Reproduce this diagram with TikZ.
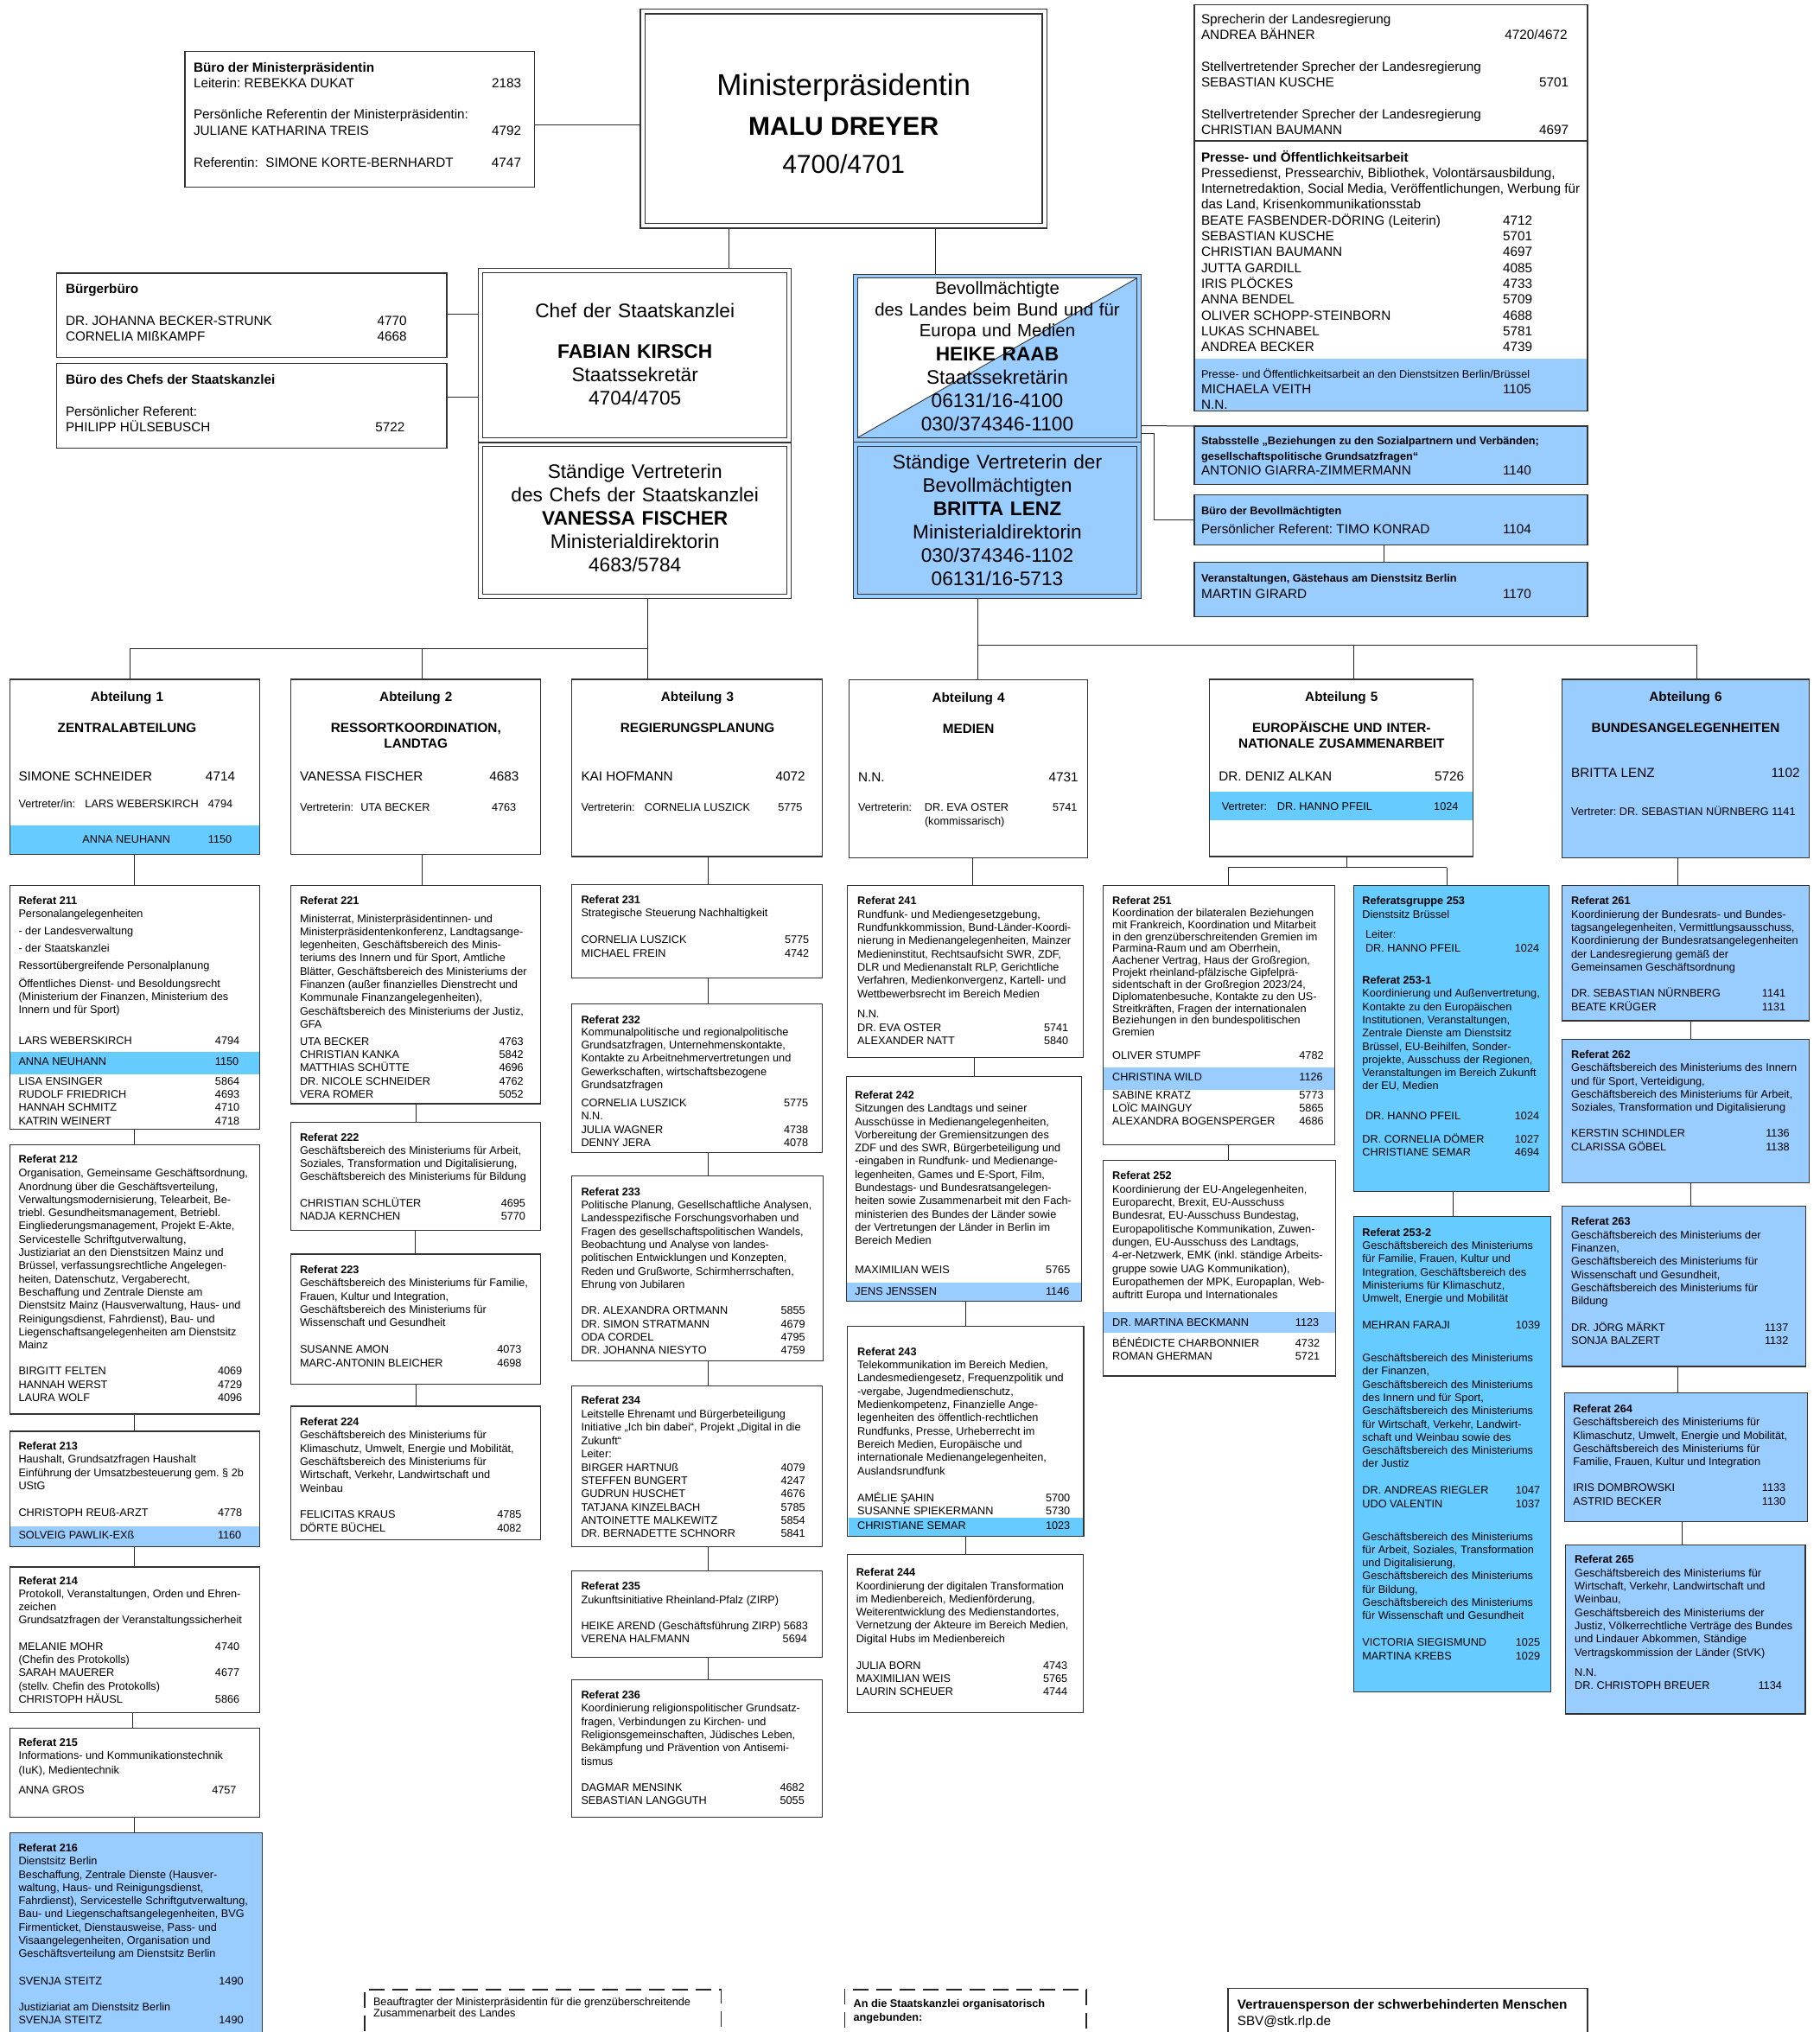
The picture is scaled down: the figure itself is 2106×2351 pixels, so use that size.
\documentclass[tikz,border=0pt]{standalone}
\usepackage{fontspec}
\setmainfont{Liberation Sans}
\usetikzlibrary{backgrounds}
\definecolor{bA}{HTML}{99CCFF}
\definecolor{bB}{HTML}{66CCFF}
\setlength{\lineskiplimit}{-50pt}
\frenchspacing
\newlength\numpos
\newcommand\pnp[1]{\setlength\numpos{#1pt}}
\newcommand\ppl[2]{\makebox[\numpos][l]{#1}#2}
\newcommand\fB{\fontsize{12.7pt}{15.3pt}\selectfont}
\newcommand\fM{\fontsize{15.3pt}{18.2pt}\selectfont}
\newcommand\fL{\fontsize{22.7pt}{27pt}\selectfont}
\newcommand\fH{\fontsize{15.3pt}{17.7pt}\selectfont\bfseries}
\newcommand\mkbox[6][]{\node[bxs,#1,minimum width={#5-#3},minimum height={#6-#4},anchor=north west] (#2) at (#3,#4) {};}
\newcommand\mkband[6]{\node[fill=#6,draw=none,inner sep=0pt,outer sep=0pt,minimum width={#4-#2-1.2},minimum height={#5-#3},anchor=north west] (#1) at ({#2+0.6},#3) {};}
\tikzset{
  bxs/.style={draw=black!80,line width=1.1pt,inner sep=0pt,outer sep=0pt},
  t1/.style={anchor=base west,inner sep=0pt,outer sep=0pt,font=\fB},
  tm/.style={anchor=base west,inner sep=0pt,outer sep=0pt,align=flush left,font=\fB},
  tc/.style={anchor=base,inner sep=0pt,outer sep=0pt,align=center},
  tc1/.style={anchor=base,inner sep=0pt,outer sep=0pt},
  con/.style={draw=black!85,line width=1pt},
  dbx/.style={draw=black!85,line width=1.6pt,dash pattern=on 18pt off 9pt,inner sep=0pt,outer sep=0pt},
}
\begin{document}
\begin{tikzpicture}[x=1pt,y=-1pt]
\useasboundingbox (0,0) rectangle (2106,2351);
\frenchspacing
% ---------------- Ministerpraesidentin
\mkbox[line width=1.6pt]{mp}{741}{10.5}{1211.5}{264}
\mkbox[line width=1.6pt]{mpin}{746.5}{16}{1206}{258.5}
\node[tc1,font=\fontsize{35pt}{40pt}\selectfont] (mpt1) at (976.2,110) {Ministerpräsidentin};
\node[tc1,font=\fontsize{30pt}{34pt}\selectfont\bfseries] (mpt2) at (976.2,156) {MALU DREYER};
\node[tc1,font=\fontsize{30pt}{34pt}\selectfont] (mpt3) at (976.2,200.5) {4700/4701};
% ---------------- Buero MP
\mkbox{bmp}{214}{59.4}{618.7}{216.3}
\node[tm,text width=392pt,font=\fM] (bmpt) at (224,83.5) {\pnp{345}\textbf{Büro der Ministerpräsidentin}\\
\ppl{Leiterin: REBEKKA DUKAT}{2183}\\[18pt]
Persönliche Referentin der Ministerpräsidentin:\\
\ppl{JULIANE KATHARINA TREIS}{4792}\\[19.2pt]
\ppl{Referentin:\ \ SIMONE KORTE-BERNHARDT}{4747}};
% ---------------- Buergerbuero / Buero Chef
\mkbox{bb}{65.4}{316}{517}{413.5}
\node[tm,text width=438pt,font=\fM] (bbt) at (76,339.4) {\pnp{360.5}\textbf{Bürgerbüro}\\[18.4pt]
\ppl{DR. JOHANNA BECKER-STRUNK}{4770}\\
\ppl{CORNELIA MIßKAMPF}{4668}};
\mkbox{bc}{65.4}{420.6}{517}{518.4}
\node[tm,text width=438pt,font=\fM] (bct) at (76,444) {\pnp{358.3}\textbf{Büro des Chefs der Staatskanzlei}\\[19.4pt]
Persönlicher Referent:\\
\ppl{PHILIPP HÜLSEBUSCH}{5722}};
% ---------------- Chef
\mkbox[line width=0.9pt]{chef}{553.8}{310.8}{915.6}{511}
\mkbox[line width=0.9pt]{chefin}{558.7}{315.5}{910.7}{506.3}
\node[tc,text width=340pt,font=\fL] (cheft) at (734.7,367) {Chef der Staatskanzlei\\[20pt]\textbf{FABIAN KIRSCH}\\Staatssekretär\\4704/4705};
\mkbox[line width=0.9pt]{stv}{553.8}{512.4}{915.6}{692.3}
\mkbox[line width=0.9pt]{stvin}{558.7}{516.9}{910.7}{687.8}
\node[tc,text width=340pt,font=\fL] (stvt) at (734.7,553) {Ständige Vertreterin\\des Chefs der Staatskanzlei\\\textbf{VANESSA FISCHER}\\Ministerialdirektorin\\4683/5784};
% ---------------- Bevollmaechtigte
\mkbox[fill=bA,line width=0.9pt]{bev}{987.6}{317.2}{1320.3}{511}
\mkbox[fill=bA,draw=none]{bevin}{992}{321.7}{1315.9}{506.5}
\fill[white] (bevin.north west) -- (bevin.north east) -- (bevin.south west) -- cycle;
\draw[black!80,line width=0.9pt] (bevin.north west) rectangle (bevin.south east);
\draw[black!80,line width=0.9pt] (bevin.south west) -- (bevin.north east);
\node[tc,text width=320pt,font=\fontsize{20.4pt}{24.5pt}\selectfont] (bevt1) at (1154,340.5) {Bevollmächtigte\\des Landes beim Bund und für\\Europa und Medien};
\node[tc,text width=320pt,font=\fontsize{22.7pt}{27.1pt}\selectfont] (bevt2) at (1154,417) {\textbf{HEIKE RAAB}\\Staatssekretärin\\06131/16-4100\\030/374346-1100};
\mkbox[fill=bA,line width=0.9pt]{bsv}{987.6}{511.5}{1320.3}{692.3}
\mkbox[fill=bA,line width=0.9pt]{bsvin}{992}{516.2}{1315.9}{687.8}
\node[tc,text width=320pt,font=\fL] (bsvt) at (1154,542) {Ständige Vertreterin der\\Bevollmächtigten\\\textbf{BRITTA LENZ}\\Ministerialdirektorin\\030/374346-1102\\06131/16-5713};
% ---------------- Sprecher / Presse (top right)
\mkbox{spr}{1382}{5.3}{1837}{475.2}
\mkband{sprb}{1382}{415}{1837}{474.6}{bA}
\coordinate (sep) at (0,163);
\draw[black!80,line width=1.1pt] (spr.west |- sep) -- (spr.east |- sep);
\node[tm,text width=446pt,font=\fontsize{15.3pt}{18pt}\selectfont] (sprt1) at (1390,27) {\pnp{391}Sprecherin der Landesregierung\\
\makebox[351.3pt][l]{ANDREA BÄHNER}4720/4672\\[19pt]
Stellvertretender Sprecher der Landesregierung\\
\ppl{SEBASTIAN KUSCHE}{5701}\\[19.3pt]
Stellvertretender Sprecher der Landesregierung\\
\ppl{CHRISTIAN BAUMANN}{4697}};
\node[tm,text width=446pt,font=\fontsize{15.3pt}{18.3pt}\selectfont] (sprt2) at (1390,187) {\pnp{349}\textbf{Presse- und Öffentlichkeitsarbeit}\\
Pressedienst, Pressearchiv, Bibliothek, Volontärsausbildung,\\
Internetredaktion, Social Media, Veröffentlichungen, Werbung für\\
das Land, Krisenkommunikationsstab\\
\ppl{BEATE FASBENDER-DÖRING (Leiterin)}{4712}\\
\ppl{SEBASTIAN KUSCHE}{5701}\\
\ppl{CHRISTIAN BAUMANN}{4697}\\
\ppl{JUTTA GARDILL}{4085}\\
\ppl{IRIS PLÖCKES}{4733}\\
\ppl{ANNA BENDEL}{5709}\\
\ppl{OLIVER SCHOPP-STEINBORN}{4688}\\
\ppl{LUKAS SCHNABEL}{5781}\\
\ppl{ANDREA BECKER}{4739}};
\node[t1] (sprt3) at (1390,437) {Presse- und Öffentlichkeitsarbeit an den Dienstsitzen Berlin/Brüssel};
\node[tm,text width=440pt,font=\fM] (sprt4) at (1390,455) {\pnp{349}\ppl{MICHAELA VEITH}{1105}\\N.N.};
% ---------------- Stabsstelle etc.
\mkbox[fill=bA]{stab}{1382}{493}{1837}{560.6}
\node[tm,text width=446pt,font=\fontsize{12.7pt}{17.7pt}\selectfont\bfseries] (stabt) at (1390,514.7) {Stabsstelle „Beziehungen zu den Sozialpartnern und Verbänden;\\gesellschaftspolitische Grundsatzfragen“};
\node[t1,font=\fM] (stabn) at (1390,549.3) {\makebox[349pt][l]{ANTONIO GIARRA-ZIMMERMANN}1140};
\mkbox[fill=bA]{bbev}{1382}{572.6}{1837}{630.6}
\node[t1,font=\fontsize{12.7pt}{15pt}\selectfont\bfseries] (bbevt) at (1390,595.5) {Büro der Bevollmächtigten};
\node[t1,font=\fM] (bbevn) at (1390,617) {\makebox[349pt][l]{Persönlicher Referent: TIMO KONRAD}1104};
\mkbox[fill=bA]{vera}{1382}{650.2}{1837}{713.4}
\node[t1,font=\fontsize{12.7pt}{15pt}\selectfont\bfseries] (verat) at (1390,673.5) {Veranstaltungen, Gästehaus am Dienstsitz Berlin};
\node[t1,font=\fM] (veran) at (1390,692.3) {\makebox[349pt][l]{MARTIN GIRARD}1170};
% ---------------- Abteilungen
\mkbox{abt1}{11.2}{786}{300.9}{988.8}
\mkband{abt1b}{11.2}{955}{300.9}{988.2}{bB}
\node[tc,text width=280pt,font=\fH] (abt1h) at (147,811.2) {Abteilung 1\\[18.8pt]ZENTRALABTEILUNG};
\node[t1,font=\fM] (abt1l) at (21.5,903) {\makebox[216.5pt][l]{SIMONE SCHNEIDER}4714};
\node[t1] (abt1v) at (21.5,934.2) {\makebox[77pt][l]{Vertreter/in:}\makebox[142.4pt][l]{LARS WEBERSKIRCH}4794};
\node[t1] (abt1a) at (95.4,975.6) {\makebox[145.5pt][l]{ANNA NEUHANN}1150};
\mkbox{abt2}{336.7}{786}{625.4}{988.8}
\node[tc,text width=280pt,font=\fH] (abt2h) at (481.3,811.2) {Abteilung 2\\[18.8pt]RESSORTKOORDINATION,\\LANDTAG};
\node[t1,font=\fM] (abt2l) at (347,903) {\makebox[219.3pt][l]{VANESSA FISCHER}4683};
\node[t1] (abt2v) at (347,938) {\makebox[70.3pt][l]{Vertreterin:}\makebox[151.7pt][l]{UTA BECKER}4763};
\mkbox{abt3}{661.7}{786}{951.4}{991}
\node[tc,text width=280pt,font=\fH] (abt3h) at (807,811.2) {Abteilung 3\\[18.8pt]REGIERUNGSPLANUNG};
\node[t1,font=\fM] (abt3l) at (672.5,903) {\makebox[225.1pt][l]{KAI HOFMANN}4072};
\node[t1] (abt3v) at (672.5,938) {\makebox[73.4pt][l]{Vertreterin:}\makebox[154.4pt][l]{CORNELIA LUSZICK}5775};
\mkbox{abt4}{982.7}{786.4}{1258.5}{992.2}
\node[tc,text width=260pt,font=\fH] (abt4h) at (1120.6,812) {Abteilung 4\\[19.1pt]MEDIEN};
\node[t1,font=\fM] (abt4l) at (993,904) {\makebox[220.7pt][l]{N.N.}4731};
\node[tm,text width=262pt,font=\fontsize{12.7pt}{16.2pt}\selectfont] (abt4v) at (993,938) {\makebox[77pt][l]{Vertreterin:}\makebox[148.2pt][l]{DR. EVA OSTER}5741\\\hspace*{77pt}(kommissarisch)};
\mkbox{abt5}{1399.5}{786}{1704.9}{991}
\mkband{abt5b}{1399.5}{916.2}{1704.9}{948.5}{bB}
\node[tc,text width=295pt,font=\fH] (abt5h) at (1552.3,811.2) {Abteilung 5\\[18.8pt]EUROPÄISCHE UND INTER-\\NATIONALE ZUSAMMENARBEIT};
\node[t1,font=\fM] (abt5l) at (1410.3,903) {\makebox[249.7pt][l]{DR. DENIZ ALKAN}5726};
\node[t1] (abt5v) at (1413.8,937) {\makebox[64.1pt][l]{Vertreter:}\makebox[181.3pt][l]{DR. HANNO PFEIL}1024};
\mkbox[fill=bA]{abt6}{1807.8}{786}{2093.5}{992.2}
\node[tc,text width=280pt,font=\fH] (abt6h) at (1950.5,811.2) {Abteilung 6\\[18.8pt]BUNDESANGELEGENHEITEN};
\node[t1,font=\fM] (abt6l) at (1818.1,899.6) {\makebox[231.5pt][l]{BRITTA LENZ}1102};
\node[t1] (abt6v) at (1818.1,943) {Vertreter: DR. SEBASTIAN NÜRNBERG 1141};
% ---------------- Spalte 1
\mkbox{r211}{11.2}{1024.5}{300.9}{1306.8}
\mkband{r211b}{11.2}{1216.5}{300.9}{1242.8}{bB}
\node[tm,text width=278pt] (r211t) at (21.5,1046) {\pnp{227.5}\textbf{Referat 211}\\
Personalangelegenheiten\\[4.6pt]
- der Landesverwaltung\\[5pt]
- der Staatskanzlei\\[5pt]
Ressortübergreifende Personalplanung\\[5pt]
Öffentliches Dienst- und Besoldungsrecht\\
(Ministerium der Finanzen, Ministerium des\\
Innern und für Sport)\\[20.5pt]
\ppl{LARS WEBERSKIRCH}{4794}\\[8.3pt]
\ppl{ANNA NEUHANN}{1150}\\[7.7pt]
\ppl{LISA ENSINGER}{5864}\\
\ppl{RUDOLF FRIEDRICH}{4693}\\
\ppl{HANNAH SCHMITZ}{4710}\\
\ppl{KATRIN WEINERT}{4718}};
\mkbox{r212}{11.2}{1324.8}{300.9}{1636}
\node[tm,text width=278pt] (r212t) at (21.5,1345.5) {\pnp{230.5}\textbf{Referat 212}\\[0.9pt]
Organisation, Gemeinsame Geschäftsordnung,\\
Anordnung über die Geschäftsverteilung,\\
Verwaltungsmodernisierung, Telearbeit, Be-\\
triebl. Gesundheitsmanagement, Betriebl.\\
Eingliederungsmanagement, Projekt E-Akte,\\
Servicestelle Schriftgutverwaltung,\\
Justiziariat an den Dienstsitzen Mainz und\\
Brüssel, verfassungsrechtliche Angelegen-\\
heiten, Datenschutz, Vergaberecht,\\
Beschaffung und Zentrale Dienste am\\
Dienstsitz Mainz (Hausverwaltung, Haus- und\\
Reinigungsdienst, Fahrdienst), Bau- und\\
Liegenschaftsangelegenheiten am Dienstsitz\\
Mainz\\[14.9pt]
\ppl{BIRGITT FELTEN}{4069}\\
\ppl{HANNAH WERST}{4729}\\
\ppl{LAURA WOLF}{4096}};
\mkbox{r213}{11.2}{1656}{300.9}{1789.3}
\mkband{r213b}{11.2}{1766}{300.9}{1788.7}{bA}
\node[tm,text width=278pt] (r213t) at (21.5,1677.4) {\pnp{230.5}\textbf{Referat 213}\\
Haushalt, Grundsatzfragen Haushalt\\
Einführung der Umsatzbesteuerung gem. § 2b\\
UStG\\[15.9pt]
\ppl{CHRISTOPH REUß-ARZT}{4778}\\[10.3pt]
\ppl{SOLVEIG PAWLIK-EXß}{1160}};
\mkbox{r214}{11.2}{1813}{300.9}{1981.2}
\node[tm,text width=278pt] (r214t) at (21.5,1833) {\pnp{227.5}\textbf{Referat 214}\\
Protokoll, Veranstaltungen, Orden und Ehren-\\
zeichen\\
Grundsatzfragen der Veranstaltungssicherheit\\[15pt]
\ppl{MELANIE MOHR}{4740}\\
(Chefin des Protokolls)\\
\ppl{SARAH MAUERER}{4677}\\
(stellv. Chefin des Protokolls)\\
\ppl{CHRISTOPH HÄUSL}{5866}};
\mkbox{r215}{11.2}{1999.7}{300.9}{2102.3}
\node[tm,text width=278pt] (r215t) at (21.5,2020.5) {\pnp{223.8}\textbf{Referat 215}\\
Informations- und Kommunikationstechnik\\[1pt]
(IuK), Medientechnik\\[7.7pt]
\ppl{ANNA GROS}{4757}};
\mkbox[fill=bA]{r216}{11.2}{2120.1}{303.5}{2362}
\node[tm,text width=280pt] (r216t) at (21.5,2142.4) {\pnp{231.9}\textbf{Referat 216}\\
Dienstsitz Berlin\\
Beschaffung, Zentrale Dienste (Hausver-\\
waltung, Haus- und Reinigungsdienst,\\
Fahrdienst), Servicestelle Schriftgutverwaltung,\\
Bau- und Liegenschaftsangelegenheiten, BVG\\
Firmenticket, Dienstausweise, Pass- und\\
Visaangelegenheiten, Organisation und\\
Geschäftsverteilung am Dienstsitz Berlin\\[16pt]
\ppl{SVENJA STEITZ}{1490}\\[15pt]
Justiziariat am Dienstsitz Berlin\\
\ppl{SVENJA STEITZ}{1490}};
% ---------------- Spalte 2
\mkbox{r221}{336.7}{1024.5}{625.4}{1277}
\node[tm,text width=277pt] (r221t) at (347,1046) {\pnp{230.5}\textbf{Referat 221}\\[5.7pt]
Ministerrat, Ministerpräsidentinnen- und\\
Ministerpräsidentenkonferenz, Landtagsange-\\
legenheiten, Geschäftsbereich des Minis-\\
teriums des Innern und für Sport, Amtliche\\
Blätter, Geschäftsbereich des Ministeriums der\\
Finanzen (außer finanzielles Dienstrecht und\\
Kommunale Finanzangelegenheiten),\\
Geschäftsbereich des Ministeriums der Justiz,\\
GFA\\[4.6pt]
\ppl{UTA BECKER}{4763}\\
\ppl{CHRISTIAN KANKA}{5842}\\
\ppl{MATTHIAS SCHÜTTE}{4696}\\
\ppl{DR. NICOLE SCHNEIDER}{4762}\\
\ppl{VERA ROMER}{5052}};
\mkbox{r222}{336.7}{1298.5}{625.4}{1423.8}
\node[tm,text width=277pt] (r222t) at (347,1320) {\pnp{232.8}\textbf{Referat 222}\\
Geschäftsbereich des Ministeriums für Arbeit,\\
Soziales, Transformation und Digitalisierung,\\
Geschäftsbereich des Ministeriums für Bildung\\[15pt]
\ppl{CHRISTIAN SCHLÜTER}{4695}\\
\ppl{NADJA KERNCHEN}{5770}};
\mkbox{r223}{336.7}{1451}{625.4}{1601.4}
\node[tm,text width=277pt] (r223t) at (347,1473.5) {\pnp{228.3}\textbf{Referat 223}\\
Geschäftsbereich des Ministeriums für Familie,\\
Frauen, Kultur und Integration,\\
Geschäftsbereich des Ministeriums für\\
Wissenschaft und Gesundheit\\[15.9pt]
\ppl{SUSANNE AMON}{4073}\\
\ppl{MARC-ANTONIN BLEICHER}{4698}};
\mkbox{r224}{336.7}{1627}{625.4}{1781.9}
\node[tm,text width=277pt] (r224t) at (347,1649.5) {\pnp{228.3}\textbf{Referat 224}\\
Geschäftsbereich des Ministeriums für\\
Klimaschutz, Umwelt, Energie und Mobilität,\\
Geschäftsbereich des Ministeriums für\\
Wirtschaft, Verkehr, Landwirtschaft und\\
Weinbau\\[15.6pt]
\ppl{FELICITAS KRAUS}{4785}\\
\ppl{DÖRTE BÜCHEL}{4082}};
% ---------------- Spalte 3
\mkbox{r231}{661.7}{1023.8}{951.4}{1131.8}
\node[tm,text width=277pt] (r231t) at (672.5,1045.2) {\pnp{235.5}\textbf{Referat 231}\\
Strategische Steuerung Nachhaltigkeit\\[15.5pt]
\ppl{CORNELIA LUSZICK}{5775}\\[0.9pt]
\ppl{MICHAEL FREIN}{4742}};
\mkbox{r232}{661.7}{1161.9}{951.4}{1333.5}
\node[tm,text width=277pt] (r232t) at (672.5,1184) {\pnp{234.5}\textbf{Referat 232}\\[-1pt]
Kommunalpolitische und regionalpolitische\\
Grundsatzfragen, Unternehmenskontakte,\\
Kontakte zu Arbeitnehmervertretungen und\\
Gewerkschaften, wirtschaftsbezogene\\
Grundsatzfragen\\[5.7pt]
\ppl{CORNELIA LUSZICK}{5775}\\
N.N.\\
\ppl{JULIA WAGNER}{4738}\\
\ppl{DENNY JERA}{4078}};
\mkbox{r233}{661.7}{1360.6}{952.7}{1574.3}
\node[tm,text width=279pt] (r233t) at (672.5,1383.2) {\pnp{231}\textbf{Referat 233}\\
Politische Planung, Gesellschaftliche Analysen,\\
Landesspezifische Forschungsvorhaben und\\
Fragen des gesellschaftspolitischen Wandels,\\
Beobachtung und Analyse von landes-\\
politischen Entwicklungen und Konzepten,\\
Reden und Grußworte, Schirmherrschaften,\\
Ehrung von Jubilaren\\[15.2pt]
\ppl{DR. ALEXANDRA ORTMANN}{5855}\\
\ppl{DR. SIMON STRATMANN}{4679}\\
\ppl{ODA CORDEL}{4795}\\
\ppl{DR. JOHANNA NIESYTO}{4759}};
\mkbox{r234}{661.7}{1603.3}{951.4}{1789.3}
\node[tm,text width=277pt] (r234t) at (672.5,1624.7) {\pnp{231}\textbf{Referat 234}\\
Leitstelle Ehrenamt und Bürgerbeteiligung\\
Initiative „Ich bin dabei“, Projekt „Digital in die\\[0.9pt]
Zukunft“\\
Leiter:\\
\ppl{BIRGER HARTNUß}{4079}\\
\ppl{STEFFEN BUNGERT}{4247}\\
\ppl{GUDRUN HUSCHET}{4676}\\
\ppl{TATJANA KINZELBACH}{5785}\\
\ppl{ANTOINETTE MALKEWITZ}{5854}\\
\ppl{DR. BERNADETTE SCHNORR}{5841}};
\mkbox{r235}{661.7}{1817.4}{951.4}{1917.1}
\node[tm,text width=277pt] (r235t) at (672.5,1839.7) {\pnp{233.2}\textbf{Referat 235}\\
Zukunftsinitiative Rheinland-Pfalz (ZIRP)\\[15.1pt]
HEIKE AREND (Geschäftsführung ZIRP) 5683\\
\ppl{VERENA HALFMANN}{5694}};
\mkbox{r236}{661.7}{1943.4}{951.4}{2102.3}
\node[tm,text width=277pt] (r236t) at (672.5,1965.6) {\pnp{230.1}\textbf{Referat 236}\\
Koordinierung religionspolitischer Grundsatz-\\
fragen, Verbindungen zu Kirchen- und\\
Religionsgemeinschaften, Jüdisches Leben,\\
Bekämpfung und Prävention von Antisemi-\\
tismus\\[15.1pt]
\ppl{DAGMAR MENSINK}{4682}\\
\ppl{SEBASTIAN LANGGUTH}{5055}};
% ---------------- Spalte 4
\mkbox{r241}{980.9}{1024.5}{1253.6}{1223.3}
\node[tm,text width=260pt] (r241t) at (992.1,1046) {\pnp{215.9}\textbf{Referat 241}\\[0.9pt]
Rundfunk- und Mediengesetzgebung,\\
Rundfunkkommission, Bund-Länder-Koordi-\\
nierung in Medienangelegenheiten, Mainzer\\
Medieninstitut, Rechtsaufsicht SWR, ZDF,\\
DLR und Medienanstalt RLP, Gerichtliche\\
Verfahren, Medienkonvergenz, Kartell- und\\
Wettbewerbsrecht im Bereich Medien\\[8.4pt]
N.N.\\
\ppl{DR. EVA OSTER}{5741}\\
\ppl{ALEXANDER NATT}{5840}};
\mkbox{r242}{979.6}{1245.8}{1251.8}{1505.4}
\mkband{r242b}{979.6}{1483.6}{1251.8}{1504.8}{bA}
\node[tm,text width=261pt] (r242t) at (989.4,1271.4) {\pnp{220.7}\textbf{Referat 242}\\
Sitzungen des Landtags und seiner\\
Ausschüsse in Medienangelegenheiten,\\
Vorbereitung der Gremiensitzungen des\\
ZDF und des SWR, Bürgerbeteiligung und\\
-eingaben in Rundfunk- und Medienange-\\
legenheiten, Games und E-Sport, Film,\\
Bundestags- und Bundesratsangelegen-\\
heiten sowie Zusammenarbeit mit den Fach-\\
ministerien des Bundes der Länder sowie\\
der Vertretungen der Länder in Berlin im\\
Bereich Medien\\[18.6pt]
\ppl{MAXIMILIAN WEIS}{5765}\\[9.9pt]
\ppl{JENS JENSSEN}{1146}};
\mkbox{r243}{980.9}{1534.8}{1254}{1777.4}
\mkband{r243b}{980.9}{1755.6}{1254}{1776.8}{bB}
\node[tm,text width=261pt] (r243t) at (992.1,1568.3) {\pnp{217.9}\textbf{Referat 243}\\
Telekommunikation im Bereich Medien,\\
Landesmediengesetz, Frequenzpolitik und\\
-vergabe, Jugendmedienschutz,\\
Medienkompetenz, Finanzielle Ange-\\
legenheiten des öffentlich-rechtlichen\\
Rundfunks, Presse, Urheberrecht im\\
Bereich Medien, Europäische und\\
internationale Medienangelegenheiten,\\
Auslandsrundfunk\\[15.9pt]
\ppl{AMÉLIE ŞAHIN}{5700}\\
\ppl{SUSANNE SPIEKERMANN}{5730}\\[1.6pt]
\ppl{CHRISTIANE SEMAR}{1023}};
\mkbox{r244}{980.5}{1798.5}{1253.1}{1981.2}
\node[tm,text width=261pt] (r244t) at (990.8,1823.7) {\pnp{216.2}\textbf{Referat 244}\\
Koordinierung der digitalen Transformation\\
im Medienbereich, Medienförderung,\\
Weiterentwicklung des Medienstandortes,\\
Vernetzung der Akteure im Bereich Medien,\\
Digital Hubs im Medienbereich\\[15.5pt]
\ppl{JULIA BORN}{4743}\\
\ppl{MAXIMILIAN WEIS}{5765}\\
\ppl{LAURIN SCHEUER}{4744}};
% ---------------- Spalte 5
\mkbox{r251}{1276.4}{1024.5}{1544.1}{1324.8}
\mkband{r251b}{1276.4}{1234.6}{1544.1}{1260.9}{bA}
\node[tm,text width=256pt,font=\fontsize{12.7pt}{13.85pt}\selectfont] (r251t) at (1287.2,1046) {\pnp{216.2}\textbf{Referat 251}\\[0.45pt]
Koordination der bilateralen Beziehungen\\
mit Frankreich, Koordination und Mitarbeit\\
in den grenzüberschreitenden Gremien im\\
Parmina-Raum und am Oberrhein,\\
Aachener Vertrag, Haus der Großregion,\\
Projekt rheinland-pfälzische Gipfelprä-\\
sidentschaft in der Großregion 2023/24,\\
Diplomatenbesuche, Kontakte zu den US-\\
Streitkräften, Fragen der internationalen\\
Beziehungen in den bundespolitischen\\
Gremien\\[12.7pt]
\ppl{OLIVER STUMPF}{4782}\\[10.9pt]
\ppl{CHRISTINA WILD}{1126}\\[7.6pt]
\ppl{SABINE KRATZ}{5773}\\[1.2pt]
\ppl{LOÏC MAINGUY}{5865}\\[1.2pt]
\ppl{ALEXANDRA BOGENSPERGER}{4686}};
\mkbox{r252}{1276.4}{1342.9}{1545.9}{1592}
\mkband{r252b}{1276.4}{1517.8}{1545.9}{1541.9}{bA}
\node[tm,text width=257pt] (r252t) at (1287.2,1364.3) {\pnp{211.7}\textbf{Referat 252}\\[0.6pt]
Koordinierung der EU-Angelegenheiten,\\
Europarecht, Brexit, EU-Ausschuss\\
Bundesrat, EU-Ausschuss Bundestag,\\
Europapolitische Kommunikation, Zuwen-\\
dungen, EU-Ausschuss des Landtags,\\
4-er-Netzwerk, EMK (inkl. ständige Arbeits-\\
gruppe sowie UAG Kommunikation),\\
Europathemen der MPK, Europaplan, Web-\\
auftritt Europa und Internationales\\[16.3pt]
\ppl{DR. MARTINA BECKMANN}{1123}\\[8.5pt]
\ppl{BÉNÉDICTE CHARBONNIER}{4732}\\
\ppl{ROMAN GHERMAN}{5721}};
\mkbox[fill=bB]{rg253}{1566.1}{1024.5}{1792.6}{1378.6}
\node[tm,text width=215pt] (rg253t) at (1576.4,1046) {\pnp{176.5}\textbf{Referatsgruppe 253}\\[0.9pt]
Dienstsitz Brüssel\\[8.4pt]
\hspace*{3.6pt}Leiter:\\
\ppl{\hspace*{3.6pt}DR. HANNO PFEIL}{1024}\\[22pt]
\textbf{Referat 253-1}\\
Koordinierung und Außenvertretung,\\
Kontakte zu den Europäischen\\
Institutionen, Veranstaltungen,\\
Zentrale Dienste am Dienstsitz\\
Brüssel, EU-Beihilfen, Sonder-\\
projekte, Ausschuss der Regionen,\\
Veranstaltungen im Bereich Zukunft\\
der EU, Medien\\[18.9pt]
\ppl{\hspace*{3.6pt}DR. HANNO PFEIL}{1024}\\[11.8pt]
\ppl{DR. CORNELIA DÖMER}{1027}\\
\ppl{CHRISTIANE SEMAR}{4694}};
\mkbox[fill=bB]{r2532}{1566.1}{1407.6}{1794.4}{1957.8}
\node[tm,text width=217pt] (r2532t) at (1576.4,1430.2) {\pnp{177.5}\textbf{Referat 253-2}\\
Geschäftsbereich des Ministeriums\\
für Familie, Frauen, Kultur und\\
Integration, Geschäftsbereich des\\
Ministeriums für Klimaschutz,\\
Umwelt, Energie und Mobilität\\[15.9pt]
\ppl{MEHRAN FARAJI}{1039}\\[22.3pt]
Geschäftsbereich des Ministeriums\\
der Finanzen,\\
Geschäftsbereich des Ministeriums\\
des Innern und für Sport,\\
Geschäftsbereich des Ministeriums\\
für Wirtschaft, Verkehr, Landwirt-\\
schaft und Weinbau sowie des\\
Geschäftsbereich des Ministeriums\\
der Justiz\\[15.6pt]
\ppl{DR. ANDREAS RIEGLER}{1047}\\
\ppl{UDO VALENTIN}{1037}\\[22.6pt]
Geschäftsbereich des Ministeriums\\
für Arbeit, Soziales, Transformation\\
und Digitalisierung,\\
Geschäftsbereich des Ministeriums\\
für Bildung,\\
Geschäftsbereich des Ministeriums\\
für Wissenschaft und Gesundheit\\[15.8pt]
\ppl{VICTORIA SIEGISMUND}{1025}\\
\ppl{MARTINA KREBS}{1029}};
% ---------------- Spalte 6
\mkbox[fill=bA]{r261}{1807.8}{1024.5}{2093.5}{1181}
\node[tm,text width=274pt] (r261t) at (1818.1,1046) {\pnp{220.8}\textbf{Referat 261}\\[0.9pt]
Koordinierung der Bundesrats- und Bundes-\\
tagsangelegenheiten, Vermittlungsausschuss,\\
Koordinierung der Bundesratsangelegenheiten\\
der Landesregierung gemäß der\\
Gemeinsamen Geschäftsordnung\\[14.4pt]
\ppl{DR. SEBASTIAN NÜRNBERG}{1141}\\[0.9pt]
\ppl{BEATE KRÜGER}{1131}};
\mkbox[fill=bA]{r262}{1807.8}{1202.6}{2093.5}{1368.1}
\node[tm,text width=274pt] (r262t) at (1818.1,1224.4) {\pnp{225.2}\textbf{Referat 262}\\
Geschäftsbereich des Ministeriums des Innern\\
und für Sport, Verteidigung,\\
Geschäftsbereich des Ministeriums für Arbeit,\\
Soziales, Transformation und Digitalisierung\\[14.8pt]
\ppl{KERSTIN SCHINDLER}{1136}\\
\ppl{CLARISSA GÖBEL}{1138}};
\mkbox[fill=bA]{r263}{1807.8}{1395.2}{2089.9}{1581}
\node[tm,text width=270pt] (r263t) at (1818.1,1417.8) {\pnp{223.9}\textbf{Referat 263}\\
Geschäftsbereich des Ministeriums der\\
Finanzen,\\
Geschäftsbereich des Ministeriums für\\
Wissenschaft und Gesundheit,\\
Geschäftsbereich des Ministeriums für\\
Bildung\\[15.2pt]
\ppl{DR. JÖRG MÄRKT}{1137}\\
\ppl{SONJA BALZERT}{1132}};
\mkbox[fill=bA]{r264}{1810.5}{1611.9}{2091.2}{1760.5}
\node[tm,text width=269pt] (r264t) at (1820.4,1634.5) {\pnp{218.5}\textbf{Referat 264}\\
Geschäftsbereich des Ministeriums für\\
Klimaschutz, Umwelt, Energie und Mobilität,\\
Geschäftsbereich des Ministeriums für\\
Familie, Frauen, Kultur und Integration\\[14.8pt]
\ppl{IRIS DOMBROWSKI}{1133}\\
\ppl{ASTRID BECKER}{1130}};
\mkbox[fill=bA]{r265}{1811.4}{1787.4}{2089}{1983}
\node[tm,text width=265pt] (r265t) at (1822.2,1808.9) {\pnp{212.4}\textbf{Referat 265}\\
Geschäftsbereich des Ministeriums für\\
Wirtschaft, Verkehr, Landwirtschaft und\\
Weinbau,\\
Geschäftsbereich des Ministeriums der\\
Justiz, Völkerrechtliche Verträge des Bundes\\
und Lindauer Abkommen, Ständige\\
Vertragskommission der Länder (StVK)\\[7.7pt]
N.N.\\
\ppl{DR. CHRISTOPH BREUER}{1134}};
% ---------------- bottom boxes
\node[dbx,minimum width=412.8,minimum height=62,anchor=north west] (dash1) at (421.7,2301.7) {};
\node[tm,text width=400pt,font=\fontsize{12.7pt}{13pt}\selectfont] (dash1t) at (432,2320.2) {Beauftragter der Ministerpräsidentin für die grenzüberschreitende\\Zusammenarbeit des Landes};
\node[dbx,minimum width=279.9,minimum height=62,anchor=north west] (dash2) at (977.3,2301.7) {};
\node[tm,text width=265pt,font=\fontsize{12.7pt}{15.9pt}\selectfont\bfseries] (dash2t) at (987.6,2322.8) {An die Staatskanzlei organisatorisch\\angebunden:};
\mkbox{sbv}{1421}{2300.6}{1837}{2362}
\node[tm,text width=400pt,font=\fontsize{15.3pt}{18.9pt}\selectfont] (sbvt) at (1431.8,2324.6) {\textbf{Vertrauensperson der schwerbehinderten Menschen}\\SBV@stk.rlp.de};
% ---------------- helper coordinates
\coordinate (h1) at (0,144.5);
\coordinate (v1) at (843,0);
\coordinate (v2) at (1082.5,0);
\coordinate (h2) at (0,363.8);
\coordinate (h3) at (0,459.7);
\coordinate (h4) at (0,492.5);
\coordinate (h5) at (0,501);
\coordinate (v3) at (1335.5,0);
\coordinate (h6) at (0,601.3);
\coordinate (v4) at (1601.4,0);
\coordinate (v5) at (749,0);
\coordinate (h7) at (0,750);
\coordinate (v6) at (150.4,0);
\coordinate (v7) at (488,0);
\coordinate (v8) at (1131.8,0);
\coordinate (h8) at (0,746.5);
\coordinate (v9) at (1566,0);
\coordinate (v10) at (1963.6,0);
\coordinate (c1) at (155.8,0);
\coordinate (c1b) at (153.6,0);
\coordinate (c2) at (481.3,0);
\coordinate (c2b) at (480,0);
\coordinate (c3) at (819.3,0);
\coordinate (c4a) at (1125,0);
\coordinate (c4b) at (1127.3,0);
\coordinate (c4c) at (1117.5,0);
\coordinate (c5) at (1558.5,0);
\coordinate (h9) at (0,1003.8);
\coordinate (c5a) at (1421,0);
\coordinate (c5b) at (1674,0);
\coordinate (c5c) at (1681.6,0);
\coordinate (c6a) at (1941.3,0);
\coordinate (c6b) at (1956,0);
\coordinate (c6c) at (1946.6,0);
% ---------------- connectors (background)
\begin{pgfonlayer}{background}
\fill[white] (0,0) rectangle (2106,2351);
\draw[con] (bmp.east |- h1) -- (mp.west |- h1);
\draw[con] (mp.south -| v1) -- (chef.north -| v1);
\draw[con] (mp.south -| v2) -- (bev.north -| v2);
\draw[con] (bb.east |- h2) -- (chef.west |- h2);
\draw[con] (bc.east |- h3) -- (chef.west |- h3);
\draw[con] (bev.east |- h4) -- (stab.north west);
\draw[con] (bev.east |- h5) -- (v3 |- h5) -- (v3 |- h6) -- (bbev.west |- h6);
\draw[con] (bbev.south -| v4) -- (vera.north -| v4);
\draw[con] (stv.south -| v5) -- (abt3.north -| v5);
\draw[con] (v6 |- h7) -- (v5 |- h7);
\draw[con] (v6 |- h7) -- (abt1.north -| v6);
\draw[con] (v7 |- h7) -- (abt2.north -| v7);
\draw[con] (bsv.south -| v8) -- (abt4.north -| v8);
\draw[con] (v8 |- h8) -- (v10 |- h8) -- (abt6.north -| v10);
\draw[con] (v9 |- h8) -- (abt5.north -| v9);
\draw[con] (abt1.south -| c1) -- (r211.north -| c1);
\draw[con] (r211.south -| c1) -- (r212.north -| c1);
\draw[con] (r212.south -| c1) -- (r213.north -| c1);
\draw[con] (r213.south -| c1) -- (r214.north -| c1);
\draw[con] (r214.south -| c1b) -- (r215.north -| c1b);
\draw[con] (r215.south -| c1) -- (r216.north -| c1);
\draw[con] (abt2.south -| v7) -- (r221.north -| v7);
\draw[con] (r221.south -| c2) -- (r222.north -| c2);
\draw[con] (r222.south -| c2b) -- (r223.north -| c2b);
\draw[con] (r223.south -| c2) -- (r224.north -| c2);
\draw[con] (abt3.south -| c3) -- (r231.north -| c3);
\draw[con] (r231.south -| c3) -- (r232.north -| c3);
\draw[con] (r232.south -| c3) -- (r233.north -| c3);
\draw[con] (r233.south -| c3) -- (r234.north -| c3);
\draw[con] (r234.south -| c3) -- (r235.north -| c3);
\draw[con] (r235.south -| c3) -- (r236.north -| c3);
\draw[con] (abt4.south -| c4a) -- (r241.north -| c4a);
\draw[con] (r241.south -| c4b) -- (r242.north -| c4b);
\draw[con] (r242.south -| c4c) -- (r243.north -| c4c);
\draw[con] (r243.south -| c4c) -- (r244.north -| c4c);
\draw[con] (abt5.south -| c5) -- (c5 |- h9);
\draw[con] (c5a |- h9) -- (c5b |- h9);
\draw[con] (c5a |- h9) -- (r251.north -| c5a);
\draw[con] (c5b |- h9) -- (rg253.north -| c5b);
\draw[con] (r251.south -| c5a) -- (r252.north -| c5a);
\draw[con] (rg253.south -| c5c) -- (r2532.north -| c5c);
\draw[con] (abt6.south -| c6a) -- (r261.north -| c6a);
\draw[con] (r261.south -| c6b) -- (r262.north -| c6b);
\draw[con] (r262.south -| c6b) -- (r263.north -| c6b);
\draw[con] (r263.south -| c6a) -- (r264.north -| c6a);
\draw[con] (r264.south -| c6c) -- (r265.north -| c6c);
\end{pgfonlayer}
\end{tikzpicture}
\end{document}
